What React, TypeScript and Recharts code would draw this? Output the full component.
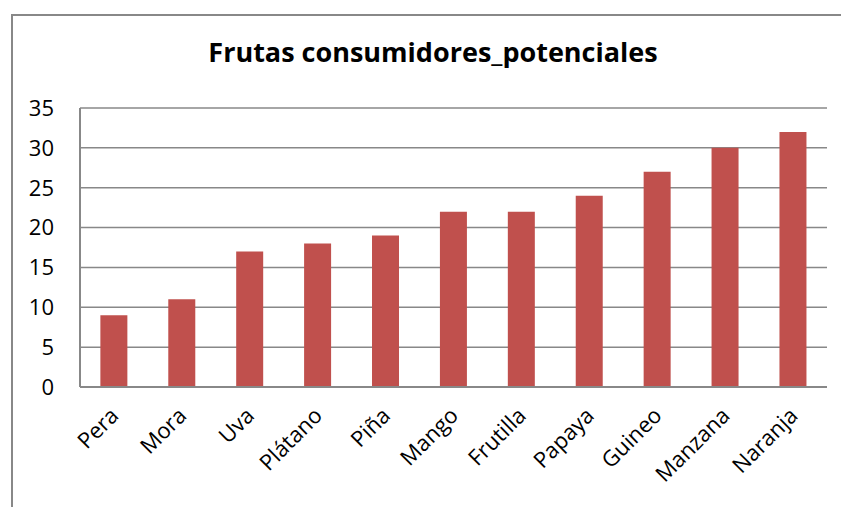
import { BarChart, Bar, XAxis, YAxis, CartesianGrid } from "recharts";

const frutas = [
  "Pera",
  "Mora",
  "Uva",
  "Plátano",
  "Piña",
  "Mango",
  "Frutilla",
  "Papaya",
  "Guineo",
  "Manzana",
  "Naranja",
];
const consumidores = [9, 11, 17, 18, 19, 22, 22, 24, 27, 30, 32];
const yTicks = [0, 5, 10, 15, 20, 25, 30, 35];

const data = frutas.map((fruta, i) => ({ fruta, valor: consumidores[i] }));

const font = "'Open Sans', sans-serif";
const gray = "#888888";

function FrutaTick({ x, y, payload }: any) {
  const tx = x + 6;
  const ty = y + 22;
  return (
    <text
      x={tx}
      y={ty}
      textAnchor="end"
      transform={`rotate(-45, ${tx}, ${ty})`}
      fontFamily={font}
      fontSize={22}
      fill="#000"
    >
      {payload.value}
    </text>
  );
}

export default function App() {
  return (
    <div
      style={{
        position: "absolute",
        left: 0,
        top: 0,
        width: 841,
        height: 507,
        overflow: "hidden",
        background: "#fff",
      }}
    >
      <div
        style={{
          position: "absolute",
          left: 11,
          top: 14,
          width: 900,
          height: 600,
          border: `2px solid ${gray}`,
        }}
      />
      <div
        style={{
          position: "absolute",
          left: 0,
          width: 866,
          top: 33,
          textAlign: "center",
          fontFamily: font,
          fontWeight: 700,
          fontSize: 27,
          color: "#000",
        }}
      >
        Frutas consumidores_potenciales
      </div>
      <div style={{ position: "absolute", left: 0, top: 0 }}>
        <BarChart
          width={841}
          height={507}
          data={data}
          margin={{ top: 108, right: 14, bottom: 0, left: 20 }}
          barCategoryGap="30%"
        >
          <CartesianGrid
            vertical={false}
            stroke={gray}
            strokeWidth={1.5}
          />
          <XAxis
            dataKey="fruta"
            interval={0}
            tickLine={false}
            axisLine={{ stroke: gray, strokeWidth: 2 }}
            tick={<FrutaTick />}
            height={120}
          />
          <YAxis
            width={60}
            domain={[0, 35]}
            ticks={yTicks}
            interval={0}
            tickLine={false}
            tickMargin={20}
            axisLine={{ stroke: gray, strokeWidth: 2 }}
            tick={{ fontFamily: font, fontSize: 22, fill: "#000" }}
          />
          <Bar dataKey="valor" fill="#C0504D" isAnimationActive={false} />
        </BarChart>
      </div>
    </div>
  );
}
